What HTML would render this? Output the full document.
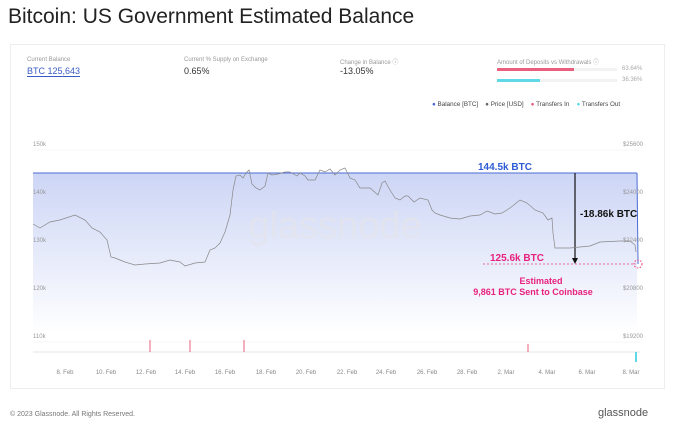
<!DOCTYPE html>
<html><head><meta charset="utf-8"><style>
body{margin:0;width:676px;height:434px;background:#fff;font-family:"Liberation Sans",sans-serif;overflow:hidden;position:relative}
.t{position:absolute;white-space:nowrap}
</style></head><body>
<div class="t" style="left:8px;top:5px;font-size:21px;color:#222">Bitcoin: US Government Estimated Balance</div>
<div style="position:absolute;left:10px;top:44px;width:655px;height:345px;border:1px solid #eee;box-sizing:border-box"></div>
<div class="t" style="left:27px;top:57px;font-size:6px;color:#999">Current Balance</div>
<div class="t" style="left:27px;top:66px;font-size:9px;color:#3a5bc7;border-bottom:1px solid #3a5bc7">BTC 125,643</div>
<div class="t" style="left:184px;top:57px;font-size:6px;color:#999">Current % Supply on Exchange</div>
<div class="t" style="left:184px;top:66px;font-size:9px;color:#333">0.65%</div>
<div class="t" style="left:340px;top:57px;font-size:6px;color:#999">Change in Balance ⓘ</div>
<div class="t" style="left:340px;top:66px;font-size:9px;color:#333">-13.05%</div>
<div class="t" style="left:497px;top:57px;font-size:6px;color:#999">Amount of Deposits vs Withdrawals ⓘ</div>
<div style="position:absolute;left:497px;top:68px;width:120px;height:3px;background:#f2f2f2"></div>
<div style="position:absolute;left:497px;top:68px;width:77px;height:3px;background:#e8607e"></div>
<div style="position:absolute;left:497px;top:79px;width:120px;height:3px;background:#f2f2f2"></div>
<div style="position:absolute;left:497px;top:79px;width:43px;height:3px;background:#5fd9e6"></div>
<div class="t" style="left:622px;top:66px;font-size:6px;color:#aaa">63.64%</div>
<div class="t" style="left:622px;top:77px;font-size:6px;color:#aaa">36.36%</div>
<div class="t" style="left:432px;top:101px;font-size:6.3px;color:#444"><span style="color:#4a6bd6">●</span> Balance [BTC] &nbsp;&nbsp; <span style="color:#666">●</span> Price [USD] &nbsp;&nbsp; <span style="color:#e8607e">●</span> Transfers In &nbsp;&nbsp; <span style="color:#5fd9e6">●</span> Transfers Out</div>
<svg style="position:absolute;left:0;top:0" width="676" height="434">
<defs><linearGradient id="g" x1="0" y1="0" x2="0" y2="1"><stop offset="0" stop-color="#ccd5f5"/><stop offset="1" stop-color="#fff"/></linearGradient></defs>
<g stroke="#f0f0f0" stroke-width="0.6"><line x1="33" y1="150" x2="640" y2="150"/><line x1="33" y1="198" x2="640" y2="198"/><line x1="33" y1="246" x2="640" y2="246"/><line x1="33" y1="294" x2="640" y2="294"/><line x1="33" y1="342" x2="640" y2="342"/></g>
<rect x="33" y="173" width="604" height="160" fill="url(#g)"/>
<line x1="33" y1="173" x2="637" y2="173" stroke="#4a6bd6" stroke-width="1"/>
<polyline fill="none" stroke="#4a6bd6" points="637,173 638,264"/>
<text x="478" y="170" font-size="10" font-weight="bold" fill="#2d5bd6">144.5k BTC</text>
<line x1="575" y1="173" x2="575" y2="262" stroke="#111" stroke-width="1.2"/>
<polygon points="572,258 578,258 575,264" fill="#111"/>
<text x="580" y="217" font-size="10" font-weight="bold" fill="#111">-18.86k BTC</text>
<line x1="483" y1="264" x2="636" y2="264" stroke="#e8407e" stroke-dasharray="2,2" stroke-width="0.8"/>
<text x="490" y="261" font-size="10" font-weight="bold" fill="#e8207e">125.6k BTC</text>
<circle cx="638" cy="264" r="4" fill="none" stroke="#e8407e" stroke-dasharray="1.5,1.5"/>
<text x="541" y="284" font-size="9" font-weight="bold" fill="#e8207e" text-anchor="middle">Estimated</text>
<text x="533" y="295" font-size="9" font-weight="bold" fill="#e8207e" text-anchor="middle">9,861 BTC Sent to Coinbase</text>
<text x="335" y="238" font-size="38" fill="#e4e4ec" text-anchor="middle" opacity="0.7">glassnode</text>
<polyline fill="none" stroke="#888" stroke-width="0.7" points="33,224 40,228 50,222 60,220 75,215 85,220 92,228 100,232 107,240 111,257 115,258 125,262 135,265 145,264 160,263 170,260 180,262 185,266 195,263 205,262 210,250 215,248 220,243 225,232 230,215 233,190 236,176 240,175 243,178 246,173 249,170 252,184 256,188 260,190 265,186 268,173 272,175 278,174 285,172 290,172 297,176 300,173 305,176 308,180 315,180 320,170 325,172 330,169 335,175 340,170 345,168 350,178 355,180 360,188 370,188 378,195 382,183 385,181 390,190 395,198 400,200 405,196 408,196 414,202 420,198 428,200 432,210 435,213 440,215 450,218 460,219 470,216 480,215 487,211 495,214 502,213 510,208 520,200 527,203 535,210 543,213 548,220 552,218 553,233 555,248 570,248 580,247 590,246 600,242 620,241 630,241 635,245 636,252"/>
<line x1="33" y1="352" x2="640" y2="352" stroke="#ddd" stroke-width="0.8"/>
<g stroke="#e8607e" stroke-width="1"><line x1="150" y1="340" x2="150" y2="352"/><line x1="190" y1="340" x2="190" y2="352"/><line x1="244" y1="340" x2="244" y2="352"/><line x1="528" y1="344" x2="528" y2="352"/></g>
<line x1="636" y1="352" x2="636" y2="362" stroke="#5fd9e6" stroke-width="2"/>
<g font-size="6" fill="#999"><text x="33" y="146">150k</text><text x="33" y="194">140k</text><text x="33" y="242">130k</text><text x="33" y="290">120k</text><text x="33" y="338">110k</text></g>
<g font-size="6" fill="#999" text-anchor="end"><text x="643" y="146">$25600</text><text x="643" y="194">$24000</text><text x="643" y="242">$22400</text><text x="643" y="290">$20800</text><text x="643" y="338">$19200</text></g>
<g font-size="6" fill="#888" text-anchor="middle"><text x="65" y="374">8. Feb</text><text x="106" y="374">10. Feb</text><text x="146" y="374">12. Feb</text><text x="185" y="374">14. Feb</text><text x="225" y="374">16. Feb</text><text x="266" y="374">18. Feb</text><text x="306" y="374">20. Feb</text><text x="347" y="374">22. Feb</text><text x="386" y="374">24. Feb</text><text x="427" y="374">26. Feb</text><text x="467" y="374">28. Feb</text><text x="506" y="374">2. Mar</text><text x="547" y="374">4. Mar</text><text x="587" y="374">6. Mar</text><text x="631" y="374">8. Mar</text></g>
<text x="10" y="416" font-size="7" fill="#777">© 2023 Glassnode. All Rights Reserved.</text>
<text x="598" y="416" font-size="11" fill="#555">glassnode</text>
</svg>
</body></html>
